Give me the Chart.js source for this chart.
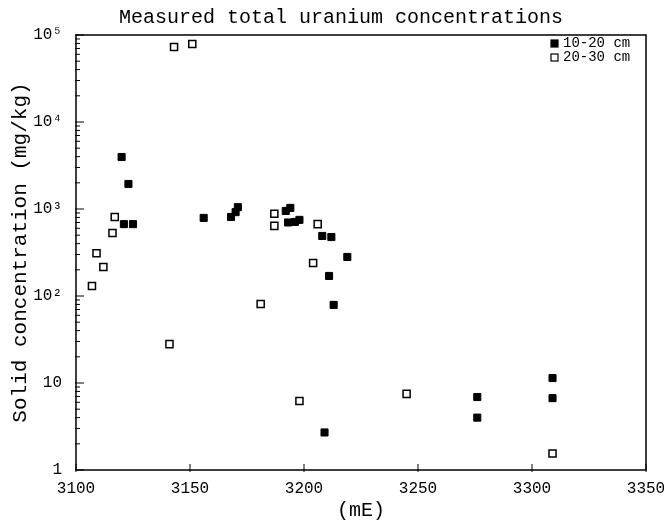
<!DOCTYPE html>
<html>
<head>
<meta charset="utf-8">
<script src="https://cdn.jsdelivr.net/npm/chart.js@4.4.0/dist/chart.umd.min.js"></script>
<style>
  html, body { margin: 0; padding: 0; background: #fff; }
  #wrap { width: 664px; height: 523px; }
</style>
</head>
<body>
<div id="wrap"><canvas id="grafica"></canvas></div>
<script>
// === DATOS ===
// 10-20 cm (cuadros rellenos)
const este1020 = [3120, 3123, 3121, 3125, 3156, 3168, 3170, 3171, 3192, 3194, 3193, 3196, 3198, 3208, 3212, 3219, 3211, 3213, 3209, 3276, 3276, 3309, 3309];
const conc1020 = [3960, 1940, 670, 670, 790, 810, 920, 1050, 950, 1030, 700, 710, 750, 490, 476, 281, 170, 79, 2.7, 6.9, 4.0, 11.4, 6.7];

// 20-30 cm (cuadros vacios)
const este2030 = [3143, 3151, 3117, 3116, 3109, 3112, 3107, 3141, 3187, 3187, 3206, 3204, 3181, 3198, 3245, 3309];
const conc2030 = [72800, 78800, 810, 530, 310, 215, 130, 28, 880, 640, 670, 240, 81, 6.2, 7.5, 1.55];

const series = ['10-20 cm', '20-30 cm'];
const ticksEste = [3100, 3150, 3200, 3250, 3300, 3350];
const ticksConc = [1, 10, 100, 1000, 10000, 100000];
const etiquetasConc = ['1', '10', '10²', '10³', '10⁴', '10⁵'];

const fuente = "'Liberation Mono', 'DejaVu Sans Mono', monospace";

// Marco, marcas hacia adentro y leyenda dentro del area
const marco = {
  id: 'marco',
  afterDraw(chart) {
    const { ctx, chartArea: a, scales: { x, y } } = chart;
    const linea = (x1, y1, x2, y2) => {
      ctx.beginPath(); ctx.moveTo(x1, y1); ctx.lineTo(x2, y2); ctx.stroke();
    };
    ctx.save();
    ctx.strokeStyle = '#000';
    ctx.lineWidth = 1.5;
    ctx.strokeRect(a.left, a.top, a.right - a.left, a.bottom - a.top);
    ctx.lineWidth = 1;
    ticksConc.forEach(d => {
      for (let k = 1; k <= 9; k++) {
        const v = d * k;
        if (v > 100000) break;
        const py = y.getPixelForValue(v);
        linea(a.left - 1, py, a.left + (k === 1 ? 8 : 4), py);
      }
    });
    ticksEste.forEach(v => {
      const px = x.getPixelForValue(v);
      linea(px, a.bottom + 2, px, a.bottom - 6);
    });

    // leyenda
    ctx.font = '14px ' + fuente;
    ctx.fillStyle = '#000';
    ctx.textBaseline = 'middle';
    chart.data.datasets.forEach((ds, i) => {
      const ly = a.top + 8 + i * 14;
      const lx = a.right - 92;
      ctx.fillStyle = ds.backgroundColor;
      ctx.fillRect(lx - 3, ly - 3, 7, 7);
      ctx.lineWidth = 1.2;
      ctx.strokeRect(lx - 3, ly - 3, 7, 7);
      ctx.fillStyle = '#000';
      ctx.fillText(ds.label, lx + 9, ly);
    });
    ctx.restore();
  }
};

const datos1020 = este1020.map((e, i) => ({ x: e, y: conc1020[i] }));
const datos2030 = este2030.map((e, i) => ({ x: e, y: conc2030[i] }));

new Chart(document.getElementById('grafica'), {
  type: 'scatter',
  data: {
    datasets: [
      {
        label: series[0],
        data: datos1020,
        pointStyle: 'rect',
        pointRadius: 5,
        backgroundColor: '#000',
        borderColor: '#000',
        borderWidth: 1
      },
      {
        label: series[1],
        data: datos2030,
        pointStyle: 'rect',
        pointRadius: 5,
        backgroundColor: '#fff',
        borderColor: '#000',
        borderWidth: 1.5
      }
    ]
  },
  options: {
    responsive: true,
    maintainAspectRatio: false,
    animation: false,
    layout: { padding: { top: 0, right: 18, left: 0, bottom: 0 } },
    plugins: {
      title: {
        display: true,
        text: '   Measured total uranium concentrations',
        color: '#000',
        font: { family: fuente, size: 20, weight: 'normal' },
        padding: { top: 6, bottom: 5 }
      },
      legend: { display: false },
      tooltip: { enabled: false }
    },
    scales: {
      x: {
        type: 'linear',
        min: 3100,
        max: 3350,
        afterBuildTicks: s => { s.ticks = ticksEste.map(v => ({ value: v })); },
        afterFit: s => { s.height = 53; s.paddingLeft = 0; s.paddingRight = 0; },
        grid: { display: false },
        border: { display: false },
        ticks: {
          autoSkip: false,
          maxRotation: 0,
          padding: 1,
          color: '#000',
          font: { family: fuente, size: 16 },
          callback: v => String(v)
        },
        title: {
          display: true,
          text: '(mE)',
          color: '#000',
          font: { family: fuente, size: 20 },
          padding: { top: 0, bottom: 0 }
        }
      },
      y: {
        type: 'logarithmic',
        min: 1,
        max: 100000,
        afterBuildTicks: s => { s.ticks = ticksConc.map(v => ({ value: v })); },
        afterFit: s => { s.width = 76; },
        grid: { display: false },
        border: { display: false },
        ticks: {
          autoSkip: false,
          padding: 6,
          color: '#000',
          font: { family: fuente, size: 16 },
          callback: v => {
            const i = ticksConc.indexOf(v);
            return i >= 0 ? etiquetasConc[i] : '';
          }
        },
        title: {
          display: true,
          text: 'Solid concentration (mg/kg)',
          color: '#000',
          font: { family: fuente, size: 21 },
          padding: { top: 8, bottom: 0 }
        }
      }
    }
  },
  plugins: [marco]
});
</script>
</body>
</html>
